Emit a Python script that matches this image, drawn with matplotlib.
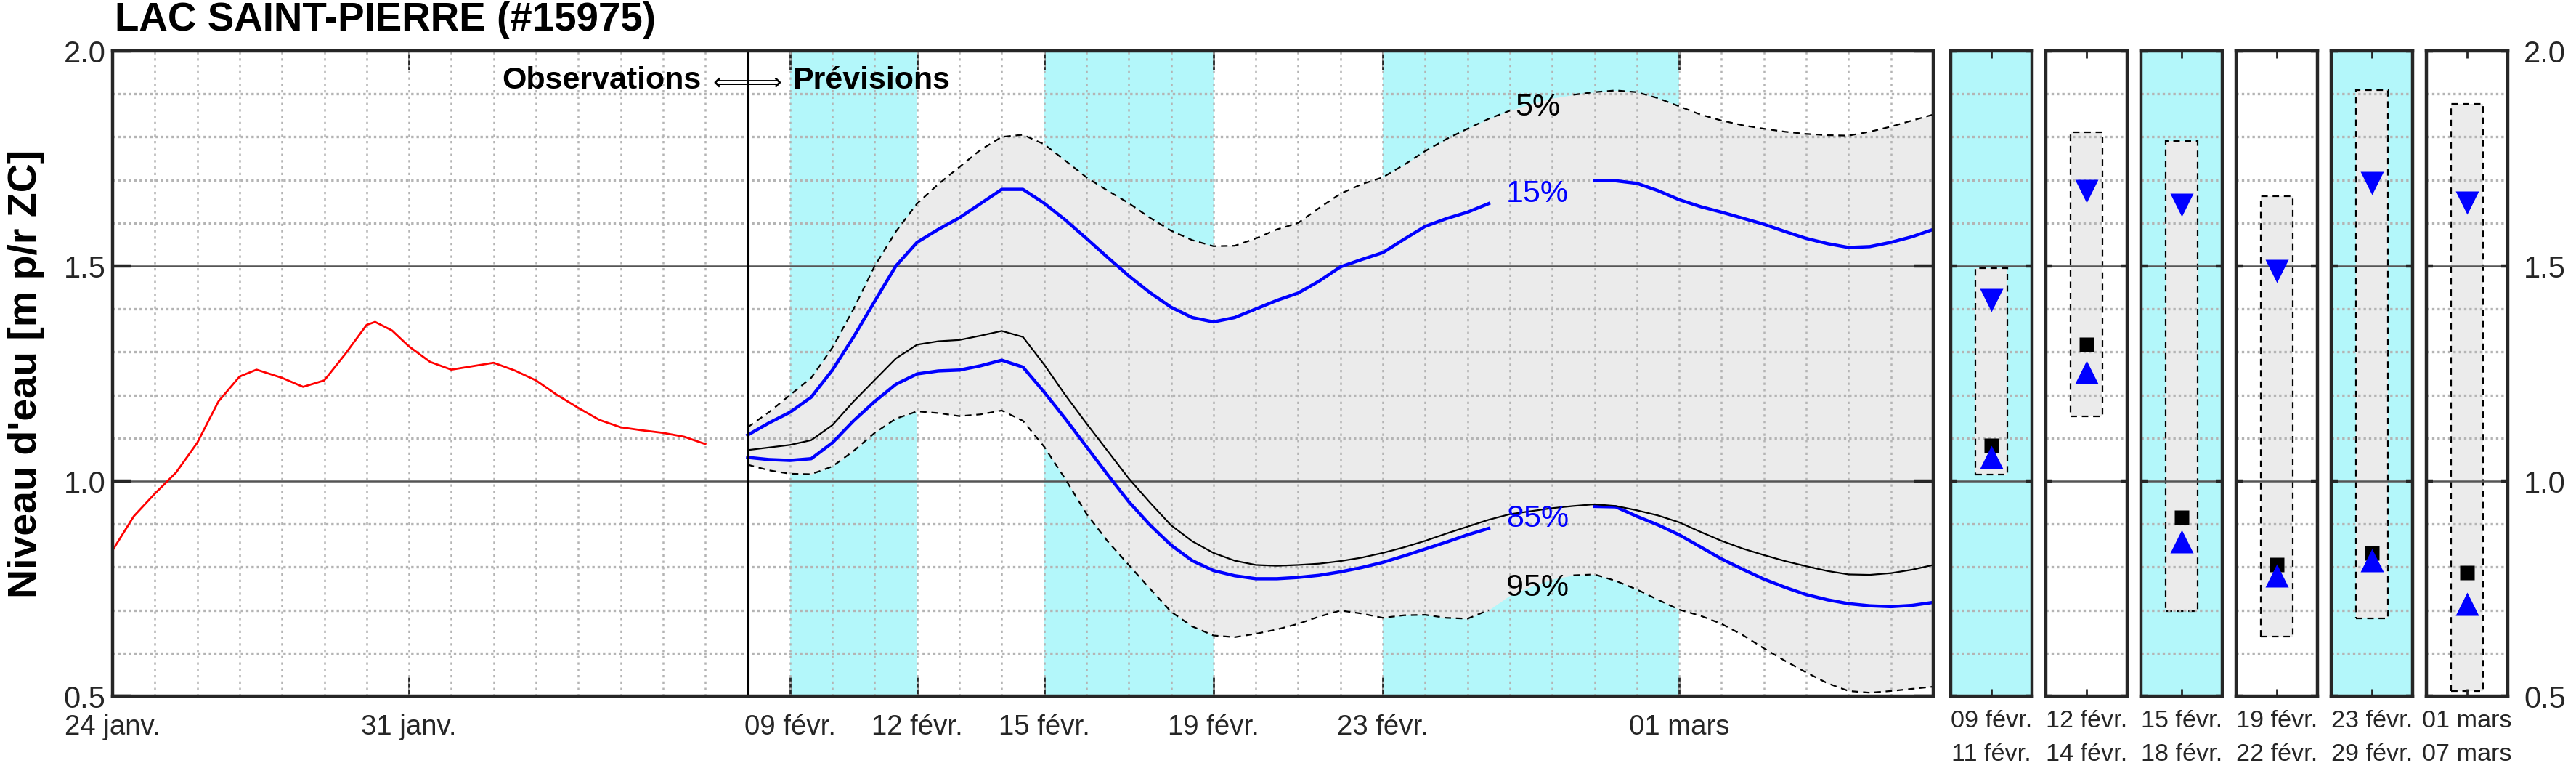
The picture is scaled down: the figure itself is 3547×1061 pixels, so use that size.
import matplotlib
matplotlib.use("Agg")
import matplotlib.pyplot as plt
from matplotlib.ticker import MultipleLocator, FixedLocator
import numpy as np

plt.rcParams['font.family'] = ['Liberation Sans', 'DejaVu Sans']

# Time axis: days since 24 janv. 2024
TICK_DAYS = [0, 7, 16, 19, 22, 26, 30, 37]
TICK_LABELS = ["24 janv.", "31 janv.", "09 févr.", "12 févr.", "15 févr.",
               "19 févr.", "23 févr.", "01 mars"]
DAY_MIN, DAY_MAX = 0, 43
FORECAST_START = 15
CYAN_BANDS = [(16, 19), (22, 26), (30, 37)]

# Observed level (red)
OBS_DAYS = [0, 0.5, 1.0, 1.5, 2.0, 2.5, 3.0, 3.4, 4.0, 4.5, 5.0, 5.5, 6.0, 6.2, 6.6,
            7.0, 7.5, 8.0, 8.5, 9.0, 9.5, 10.0, 10.5, 11.0, 11.5, 12.0, 12.5, 13.0,
            13.5, 14.0]
OBS_LEVEL = [0.839, 0.918, 0.971, 1.020, 1.089, 1.185, 1.243, 1.259, 1.240, 1.219,
             1.234, 1.296, 1.363, 1.370, 1.350, 1.313, 1.277, 1.259, 1.267, 1.275,
             1.257, 1.234, 1.200, 1.170, 1.142, 1.125, 1.118, 1.112, 1.103, 1.086]

# Forecast quantiles, every half day from 08 févr. (day 15) to 07 mars (day 43)
FC_DAYS = np.arange(15, 43.01, 0.5)
Q05 = [1.125, 1.160, 1.200, 1.240, 1.310, 1.400, 1.500, 1.580, 1.645, 1.690,
       1.730, 1.770, 1.800, 1.805, 1.783, 1.745, 1.706, 1.675, 1.646, 1.612,
       1.582, 1.560, 1.546, 1.547, 1.564, 1.585, 1.600, 1.635, 1.668, 1.690,
       1.706, 1.735, 1.767, 1.795, 1.819, 1.842, 1.861, 1.877, 1.890, 1.898,
       1.904, 1.908, 1.904, 1.890, 1.871, 1.852, 1.838, 1.827, 1.819, 1.812,
       1.807, 1.804, 1.803, 1.812, 1.824, 1.838, 1.852]
Q15 = [1.107, 1.135, 1.160, 1.195, 1.258, 1.335, 1.418, 1.500, 1.555, 1.585,
       1.612, 1.645, 1.678, 1.678, 1.646, 1.607, 1.564, 1.520, 1.477, 1.438,
       1.404, 1.380, 1.370, 1.380, 1.400, 1.420, 1.437, 1.465, 1.498, 1.515,
       1.531, 1.562, 1.592, 1.610, 1.625, 1.645, 1.662, 1.675, 1.685, 1.692,
       1.698, 1.698, 1.692, 1.675, 1.654, 1.638, 1.625, 1.611, 1.597, 1.580,
       1.564, 1.552, 1.543, 1.545, 1.555, 1.568, 1.585]
Q50 = [1.072, 1.078, 1.084, 1.095, 1.130, 1.185, 1.235, 1.285, 1.317, 1.325,
       1.328, 1.338, 1.349, 1.335, 1.271, 1.200, 1.134, 1.070, 1.006, 0.950,
       0.897, 0.860, 0.833, 0.815, 0.805, 0.803, 0.805, 0.808, 0.814, 0.822,
       0.833, 0.846, 0.861, 0.878, 0.894, 0.910, 0.923, 0.930, 0.937, 0.942,
       0.946, 0.942, 0.932, 0.920, 0.904, 0.882, 0.861, 0.843, 0.828, 0.814,
       0.802, 0.791, 0.783, 0.782, 0.786, 0.794, 0.805]
Q85 = [1.055, 1.050, 1.048, 1.052, 1.089, 1.140, 1.185, 1.225, 1.249, 1.256,
       1.258, 1.268, 1.281, 1.265, 1.207, 1.145, 1.080, 1.015, 0.952, 0.898,
       0.851, 0.815, 0.792, 0.780, 0.773, 0.773, 0.776, 0.781, 0.789, 0.799,
       0.811, 0.826, 0.842, 0.858, 0.875, 0.890, 0.903, 0.915, 0.927, 0.936,
       0.941, 0.940, 0.918, 0.898, 0.875, 0.847, 0.819, 0.795, 0.772, 0.753,
       0.736, 0.724, 0.715, 0.710, 0.708, 0.711, 0.718]
Q95 = [1.038, 1.025, 1.017, 1.016, 1.034, 1.070, 1.112, 1.145, 1.162, 1.158,
       1.151, 1.155, 1.164, 1.140, 1.080, 1.005, 0.924, 0.860, 0.805, 0.750,
       0.696, 0.662, 0.641, 0.637, 0.645, 0.655, 0.668, 0.685, 0.699, 0.692,
       0.682, 0.688, 0.689, 0.682, 0.680, 0.700, 0.734, 0.755, 0.772, 0.781,
       0.783, 0.768, 0.748, 0.724, 0.701, 0.687, 0.668, 0.642, 0.611, 0.582,
       0.555, 0.530, 0.512, 0.508, 0.512, 0.517, 0.522]

# Period summaries (small panels)
PERIOD_LABELS = ["09 févr.\n11 févr.", "12 févr.\n14 févr.", "15 févr.\n18 févr.",
                 "19 févr.\n22 févr.", "23 févr.\n29 févr.", "01 mars\n07 mars"]
PERIOD_SHADED = [True, False, True, False, True, False]
BOX_HI = [1.495, 1.810, 1.790, 1.662, 1.909, 1.877]
BOX_LO = [1.015, 1.150, 0.697, 0.639, 0.680, 0.511]
MARK_Q15 = [1.420, 1.674, 1.642, 1.488, 1.693, 1.647]
MARK_MED = [1.083, 1.318, 0.916, 0.805, 0.833, 0.787]
MARK_Q85 = [1.055, 1.254, 0.859, 0.781, 0.816, 0.715]

CYAN = "#b3f7fa"
FILL = "#ebebeb"
BLUE = "#0000ff"
SPINE = "#262626"
W, H, DPI = 3547, 1061, 200


def style_y(ax, ticklen):
    ax.set_ylim(0.5, 2.0)
    ax.yaxis.set_major_locator(MultipleLocator(0.5))
    ax.yaxis.set_minor_locator(MultipleLocator(0.1))
    ax.grid(which="major", axis="y", color="#555555", lw=0.9, ls="-", zorder=1.5)
    ax.grid(which="minor", axis="y", color="#b4b4b4", lw=1.2, ls=(0, (1, 1.2)))
    ax.tick_params(axis="y", which="major", direction="in", left=True, right=True,
                   length=ticklen, width=1.6, color=SPINE, labelsize=15,
                   labelcolor="#262626")
    ax.tick_params(axis="y", which="minor", length=0)
    for s in ax.spines.values():
        s.set_linewidth(1.6)
        s.set_color(SPINE)
    ax.set_axisbelow("line")


fig = plt.figure(figsize=(W / DPI, H / DPI), dpi=DPI)
bottom = 103 / H
height = 888 / H

# ----- main panel -----
ax = fig.add_axes([155 / W, bottom, (2662 - 155) / W, height])
for a, b in CYAN_BANDS:
    ax.axvspan(a, b, color=CYAN, lw=0, zorder=0.2)
ax.fill_between(FC_DAYS, Q95, Q05, color=FILL, lw=0, zorder=0.8)

# small breaks in the curves where the percentile labels sit
gap5 = (FC_DAYS > 33.2) & (FC_DAYS < 34.3)
gap95 = (FC_DAYS > 32.7) & (FC_DAYS < 34.3)
gapb = (FC_DAYS > 32.7) & (FC_DAYS < 34.8)
ax.plot(FC_DAYS, np.ma.masked_where(gap5, Q05), color="k", lw=0.8, ls=(0, (4, 3)), zorder=2)
ax.plot(FC_DAYS, np.ma.masked_where(gap95, Q95), color="k", lw=0.8, ls=(0, (4, 3)), zorder=2)
ax.plot(FC_DAYS, Q50, color="k", lw=0.8, zorder=2.2)
ax.plot(FC_DAYS, np.ma.masked_where(gapb, Q15), color=BLUE, lw=1.6, zorder=2.1)
ax.plot(FC_DAYS, np.ma.masked_where(gapb, Q85), color=BLUE, lw=1.6, zorder=2.1)
ax.plot(OBS_DAYS, OBS_LEVEL, color="red", lw=1.0, zorder=2.3)
ax.axvline(FORECAST_START, color="k", lw=1.1, zorder=2.5)

ax.text(33.65, 1.868, "5%", ha="center", va="center", fontsize=15.5)
ax.text(33.65, 1.668, "15%", ha="center", va="center", fontsize=15.5, color=BLUE)
ax.text(33.65, 0.912, "85%", ha="center", va="center", fontsize=15.5, color=BLUE)
ax.text(33.65, 0.752, "95%", ha="center", va="center", fontsize=15.5)

ax.text(13.9, 1.93, "Observations", ha="right", va="center", fontsize=15.5, fontweight="bold")
ax.text(15.0, 1.925, "⟸⟹", ha="center", va="center", fontsize=12, family=["DejaVu Sans"])
ax.text(16.05, 1.93, "Prévisions", ha="left", va="center", fontsize=15.5, fontweight="bold")

ax.set_xlim(DAY_MIN, DAY_MAX)
ax.xaxis.set_major_locator(FixedLocator(TICK_DAYS))
ax.set_xticklabels(TICK_LABELS)
ax.xaxis.set_minor_locator(MultipleLocator(1))
ax.xaxis.remove_overlapping_locs = False
ax.grid(which="minor", axis="x", color="#b4b4b4", lw=0.9, ls=(0, (1.3, 2.2)))
ax.tick_params(axis="x", which="major", direction="in", top=True, bottom=True,
               length=9.5, width=1.0, color=SPINE, labelsize=13.8, pad=9,
               labelcolor="#262626")
ax.tick_params(axis="x", which="minor", length=0)
style_y(ax, 9.5)
ax.set_ylabel("Niveau d'eau [m p/r ZC]", fontsize=20, fontweight="bold", labelpad=9)

fig.text(158 / W, 1 - 28 / H, "LAC SAINT-PIERRE (#15975)", fontsize=19.7,
         fontweight="bold", va="center", ha="left")

# ----- period panels -----
panel_left = [2686, 2817, 2948, 3079, 3210, 3341]
for i, x0 in enumerate(panel_left):
    pa = fig.add_axes([x0 / W, bottom, 112 / W, height])
    if PERIOD_SHADED[i]:
        pa.set_facecolor(CYAN)
    pa.set_xlim(0, 1)
    pa.bar(0.5, BOX_HI[i] - BOX_LO[i], bottom=BOX_LO[i], width=0.4, color=FILL,
           edgecolor="k", lw=0.8, ls=(0, (4, 3)), zorder=1)
    pa.plot(0.5, MARK_Q15[i], "v", color=BLUE, ms=11.5, mec="none", zorder=3)
    pa.plot(0.5, MARK_MED[i], "s", color="k", ms=7.5, mec="none", zorder=3)
    pa.plot(0.5, MARK_Q85[i], "^", color=BLUE, ms=11.5, mec="none", zorder=3)
    pa.set_xticks([0.5])
    pa.set_xticklabels([PERIOD_LABELS[i]], linespacing=1.6)
    pa.tick_params(axis="x", direction="in", top=True, bottom=True, length=3.5,
                   width=1.0, color=SPINE, labelsize=12.3, pad=7, labelcolor="#262626")
    style_y(pa, 3.2)
    if i == len(panel_left) - 1:
        pa.tick_params(axis="y", labelleft=False, labelright=True, pad=8)
    else:
        pa.tick_params(axis="y", labelleft=False)

fig.savefig("out.png", dpi=DPI)
